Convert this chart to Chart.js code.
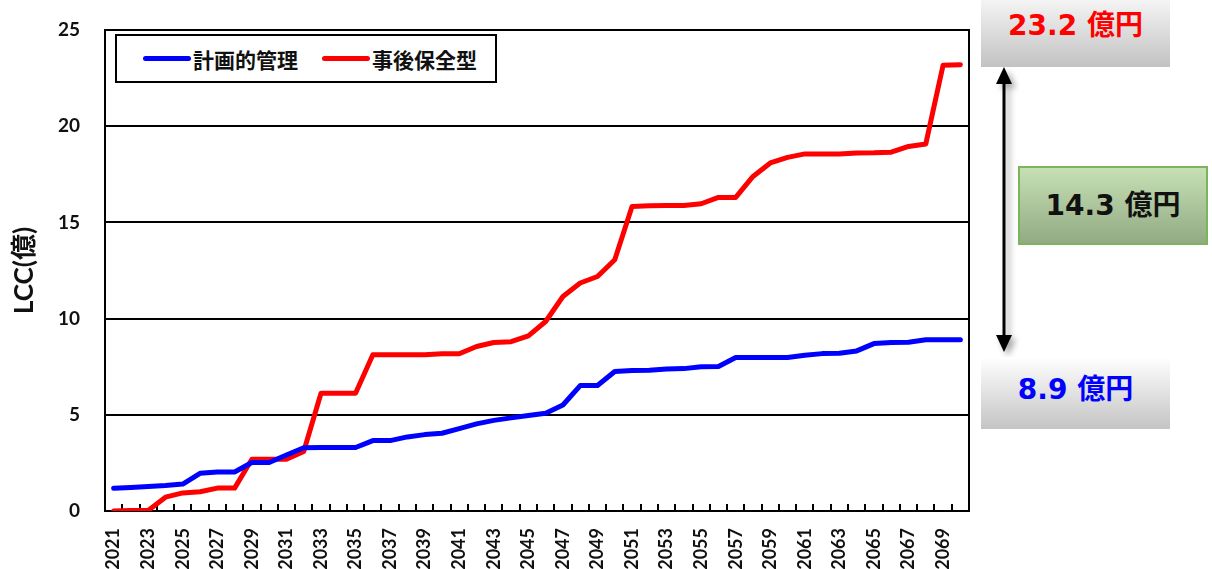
<!DOCTYPE html>
<html lang="ja">
<head>
<meta charset="utf-8">
<title>LCC 計画的管理と事後保全型の比較</title>
<script src="https://cdn.jsdelivr.net/npm/chart.js@4.4.1/dist/chart.umd.min.js"></script>
<style>
  html, body { margin: 0; padding: 0; background: #fff; }
  #wrap { position: relative; width: 1212px; height: 569px; overflow: hidden; background: #fff; }
  #chart { position: absolute; left: 0; top: 0; }
  #legend {
    position: absolute; left: 115px; top: 34px; width: 378px; height: 45px;
    border: 2px solid #000; background: #fff; display: flex; align-items: center;
    font-family: "Noto Sans CJK JP", sans-serif; font-weight: 700; font-size: 21px; color: #111;
  }
  #legend .item { display: flex; align-items: center; margin-left: 26px; }
  #legend .item + .item { margin-left: 24px; }
  #legend .swatch { width: 48px; height: 5px; border-radius: 3px; margin-right: 2px; }
  .note {
    position: absolute; display: flex; justify-content: center; box-sizing: border-box;
    font-family: "DejaVu Sans", "Noto Sans CJK JP", sans-serif; font-weight: 700; font-size: 28px;
    white-space: nowrap;
  }
  #noteTop { left: 981px; top: 0; width: 189px; height: 67px; line-height: 52px;
    background: linear-gradient(#f4f4f4, #c2c2c2); color: #ff0000; }
  #noteBottom { left: 981px; top: 357px; width: 189px; height: 72px; line-height: 66px;
    background: linear-gradient(#ffffff, #c4c4c4); color: #0000ff; }
  #noteDiff { left: 1018px; top: 166px; width: 190px; height: 79px; line-height: 75px;
    background: linear-gradient(#c6e0b4, #93aa84); border: 2px solid #7ab55c; color: #111; }
  #arrow { position: absolute; left: 0; top: 0; pointer-events: none; }
</style>
</head>
<body>
<div id="wrap">
  <canvas id="chart" width="1212" height="569"></canvas>
  <div id="legend"></div>
  <svg id="arrow" width="1212" height="569" viewBox="0 0 1212 569">
    <defs>
      <filter id="shade" x="-50%" y="-10%" width="200%" height="120%">
        <feDropShadow dx="4" dy="4" stdDeviation="3" flood-color="#000" flood-opacity="0.35"/>
      </filter>
    </defs>
    <g filter="url(#shade)" fill="#000" stroke="#000">
      <line x1="1004" y1="80" x2="1004" y2="339" stroke-width="3"/>
      <polygon points="1004,67 996,84 1012,84" stroke="none"/>
      <polygon points="1004,352 996,335 1012,335" stroke="none"/>
    </g>
  </svg>
  <div class="note" id="noteTop"></div>
  <div class="note" id="noteDiff"></div>
  <div class="note" id="noteBottom"></div>
</div>
<script>
// 年度（2021〜2070年）
const years = [
  '2021','2022','2023','2024','2025','2026','2027','2028','2029','2030',
  '2031','2032','2033','2034','2035','2036','2037','2038','2039','2040',
  '2041','2042','2043','2044','2045','2046','2047','2048','2049','2050',
  '2051','2052','2053','2054','2055','2056','2057','2058','2059','2060',
  '2061','2062','2063','2064','2065','2066','2067','2068','2069','2070'
];

// 計画的管理の累計LCC（億円）
const plannedLCC = [
  1.18, 1.22, 1.27, 1.32, 1.40, 1.96, 2.03, 2.03, 2.52, 2.52,
  2.91, 3.29, 3.30, 3.30, 3.30, 3.66, 3.66, 3.85, 3.97, 4.04,
  4.28, 4.53, 4.71, 4.84, 4.96, 5.08, 5.51, 6.52, 6.52, 7.25,
  7.30, 7.32, 7.38, 7.40, 7.50, 7.51, 7.98, 7.98, 7.98, 7.98,
  8.10, 8.18, 8.20, 8.32, 8.70, 8.76, 8.77, 8.90, 8.90, 8.90
];

// 事後保全型の累計LCC（億円）
const reactiveLCC = [
  0.00, 0.03, 0.03, 0.72, 0.94, 1.00, 1.19, 1.19, 2.69, 2.69,
  2.69, 3.09, 6.12, 6.12, 6.12, 8.12, 8.12, 8.12, 8.12, 8.17,
  8.17, 8.55, 8.76, 8.80, 9.10, 9.85, 11.15, 11.85, 12.19, 13.06,
  15.83, 15.86, 15.88, 15.88, 15.97, 16.30, 16.30, 17.39, 18.09, 18.38,
  18.56, 18.56, 18.56, 18.61, 18.62, 18.65, 18.95, 19.08, 23.17, 23.20
];

const seriesNames = ['計画的管理', '事後保全型'];
const yTicks = [0, 5, 10, 15, 20, 25];

const latinFont = 'Lato, "Noto Sans CJK JP", sans-serif';

// 描画領域を囲む枠線
const frame = {
  id: 'frame',
  beforeDatasetsDraw(chart) {
    const { ctx, chartArea: a } = chart;
    ctx.save();
    ctx.strokeStyle = '#000';
    ctx.lineWidth = 2;
    ctx.strokeRect(a.left, a.top, a.right - a.left, a.bottom - a.top);
    ctx.restore();
  }
};

const chart = new Chart(document.getElementById('chart'), {
  type: 'line',
  data: {
    labels: years,
    datasets: [
      {
        label: seriesNames[0], data: plannedLCC,
        borderColor: '#0000ff', backgroundColor: '#0000ff', borderWidth: 5,
        pointRadius: 0, tension: 0, borderCapStyle: 'round', borderJoinStyle: 'round'
      },
      {
        label: seriesNames[1], data: reactiveLCC,
        borderColor: '#ff0000', backgroundColor: '#ff0000', borderWidth: 5,
        pointRadius: 0, tension: 0, borderCapStyle: 'round', borderJoinStyle: 'round'
      }
    ]
  },
  options: {
    responsive: false,
    animation: false,
    layout: { padding: { top: 30, right: 243, bottom: 0, left: 0 } },
    plugins: { legend: { display: false }, tooltip: { enabled: false } },
    scales: {
      x: {
        type: 'category',
        offset: true,
        afterFit(scale) { scale.height = 58; },
        grid: {
          offset: true, drawOnChartArea: false, drawTicks: true,
          tickLength: -7, color: '#000', lineWidth: 2
        },
        border: { display: true, color: '#000', width: 2 },
        ticks: {
          autoSkip: false, minRotation: 90, maxRotation: 90, padding: 24,
          color: '#111', font: { family: latinFont, size: 18, weight: 'bold' },
          callback(value, index) { return index % 2 === 0 ? this.getLabelForValue(value) : ''; }
        }
      },
      y: {
        min: 0, max: 25,
        afterFit(scale) {
          scale.width = 105;
          scale.paddingTop = 10;
          scale.paddingBottom = 10;
        },
        afterBuildTicks(scale) { scale.ticks = yTicks.map(v => ({ value: v })); },
        grid: { color: '#000', lineWidth: 2, drawTicks: false },
        border: { display: true, color: '#000', width: 2 },
        ticks: {
          padding: 25, color: '#111',
          font: { family: latinFont, size: 19, weight: 'bold' }
        },
        title: {
          display: true, text: 'LCC(億)', color: '#111',
          font: { family: latinFont, size: 26, weight: 'bold' },
          padding: { top: 9, bottom: 0 }
        }
      }
    }
  },
  plugins: [frame]
});

// 凡例（グラフ内の枠付き）
const legend = document.getElementById('legend');
chart.data.datasets.forEach(ds => {
  const item = document.createElement('div');
  item.className = 'item';
  const sw = document.createElement('span');
  sw.className = 'swatch';
  sw.style.background = ds.borderColor;
  const tx = document.createElement('span');
  tx.textContent = ds.label;
  item.appendChild(sw);
  item.appendChild(tx);
  legend.appendChild(item);
});

// 2070年時点の累計額と差額
const lastPlanned = plannedLCC[plannedLCC.length - 1];
const lastReactive = reactiveLCC[reactiveLCC.length - 1];
document.getElementById('noteTop').textContent = lastReactive.toFixed(1) + ' 億円';
document.getElementById('noteBottom').textContent = lastPlanned.toFixed(1) + ' 億円';
document.getElementById('noteDiff').textContent = (lastReactive - lastPlanned).toFixed(1) + ' 億円';
</script>
</body>
</html>
